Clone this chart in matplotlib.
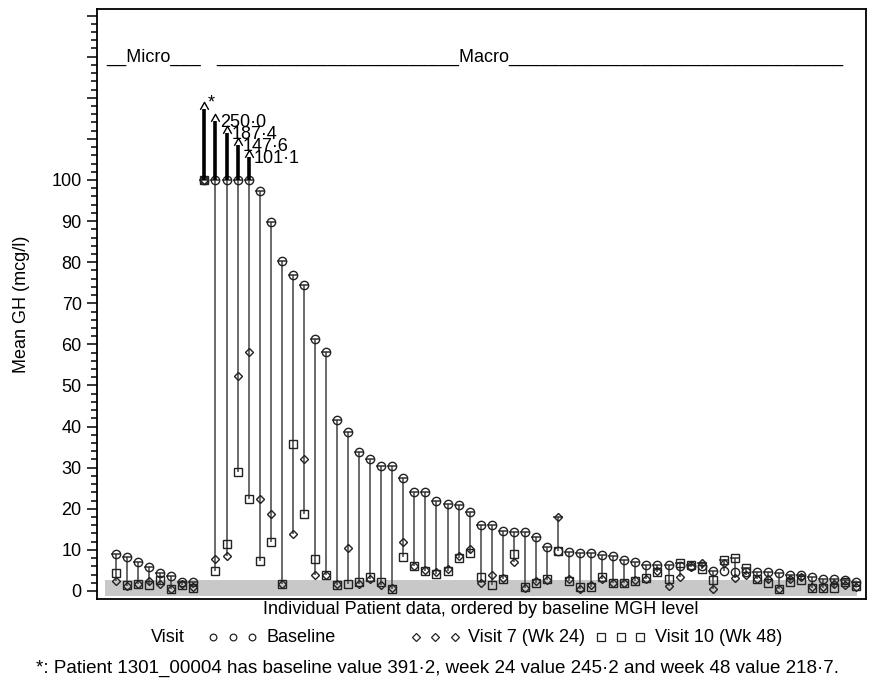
import numpy as np
import matplotlib
matplotlib.use("Agg")
import matplotlib.pyplot as plt
from matplotlib.path import Path
from matplotlib.ticker import MultipleLocator

plt.rcParams["font.family"] = ["Liberation Sans", "DejaVu Sans"]
plt.rcParams["font.size"] = 13

# --------------------------------------------------------
# Data: mean GH per patient, ordered by baseline level
# --------------------------------------------------------
baseline = [8.9, 8.2, 7.0, 5.8, 4.3, 3.7, 2.1, 2.1,
            391.2, 250.0, 187.4, 147.6, 101.1, 97.4, 89.7, 80.3, 76.9, 74.4,
            61.2, 58.2, 41.6, 38.8, 33.7, 32.2, 30.5, 30.4, 27.6, 24.1, 24.0,
            21.9, 21.2, 20.8, 19.1, 16.1, 16.1, 14.7, 14.4, 14.4, 13.2, 10.8,
            9.8, 9.6, 9.2, 9.2, 8.8, 8.6, 7.5, 7.1, 6.3, 6.3, 6.3, 6.2, 6.2,
            6.2, 4.9, 4.8, 4.7, 4.6, 4.6, 4.5, 4.4, 3.9, 3.9, 3.5, 2.8, 2.8,
            2.6, 2.2]
week24 = [2.4, 1.2, 1.7, 2.5, 1.8, 0.6, 1.7, 0.9,
          245.2, 7.8, 8.5, 52.3, 58.2, 22.5, 18.7, 1.6, 13.9, 32.0,
          3.8, 3.8, 1.7, 10.5, 1.8, 2.9, 1.5, 0.8, 11.9, 6.1, 5.2,
          4.5, 5.3, 8.5, 10.1, 2.0, 3.9, 3.1, 7.1, 0.7, 2.4, 2.6,
          18.1, 2.8, 0.6, 1.4, 2.8, 2.0, 2.0, 2.6, 2.8, 4.9, 1.2, 3.3, 5.9,
          6.7, 0.5, 6.9, 3.1, 3.9, 3.0, 3.0, 0.5, 3.0, 3.5, 1.0, 1.0, 1.8,
          1.5, 1.0]
week48 = [4.3, 1.5, 1.6, 1.5, 2.7, 0.4, 1.5, 0.7,
          218.7, 4.9, 11.4, 29.0, 22.4, 7.4, 11.8, 1.6, 35.7, 18.7,
          7.8, 3.8, 1.5, 1.6, 2.1, 3.5, 2.1, 0.5, 8.3, 6.1, 4.9,
          4.1, 4.9, 8.0, 9.2, 3.5, 1.5, 2.8, 9.0, 0.9, 2.0, 2.8,
          9.8, 2.4, 0.9, 0.9, 3.3, 1.9, 1.9, 2.4, 3.2, 4.5, 2.8, 6.7, 6.3,
          5.3, 2.7, 7.5, 8.0, 5.5, 2.8, 2.0, 0.4, 2.3, 2.7, 0.7, 0.7, 0.7,
          2.3, 1.2]
cap = 100
capped_labels = ["*", "250·0", "187·4", "147·6", "101·1"]

W, H = 873, 690


def fig_xy(px, py):
    return px / W, 1 - py / H


fig = plt.figure(figsize=(W / 100, H / 100), dpi=100)
ax = fig.add_axes([97 / W, 1 - 599 / H, (866 - 97) / W, (599 - 9) / H])

x = np.arange(len(baseline))
b = np.minimum(baseline, cap)
w24 = np.minimum(week24, cap)
w48 = np.minimum(week48, cap)
hi = np.maximum(np.maximum(b, w24), w48)
lo = np.minimum(np.minimum(b, w24), w48)

# normal range band
ax.fill_between([-1.0, len(x) - 0.94], -1.2, 2.7, color="#c8c8c8", lw=0, zorder=0)

# hi-low lines with a tick at the high end
ax.vlines(x, lo, hi, color="#505050", lw=1.2, zorder=2)
ax.plot(x, hi, ls="none", marker="_", ms=7, mew=1.1, color="#303030", zorder=3)

mk = dict(ls="none", mfc="none", mec="#222222", mew=1.0, zorder=4)
ax.plot(x, b, marker="o", ms=6, **mk)
ax.plot(x, w24, marker="D", ms=4.2, **mk)
ax.plot(x, w48, marker="s", ms=6, **mk)

# values above the cap: thick line up to an open arrowhead and a label
caret = Path([(-1, -0.8), (0, 1), (1, -0.8)], [Path.MOVETO, Path.LINETO, Path.LINETO])
idx_cap = [i for i, v in enumerate(baseline) if v > cap]
for k, i in enumerate(idx_cap):
    top = 117.3 - 2.9 * k
    ax.vlines(i, cap, top, color="black", lw=2.6, zorder=5)
    ax.plot(i, top + 0.6, marker=caret, ms=6, mfc="none", mec="black", mew=1.0, zorder=6)
    if capped_labels[k] == "*":
        ax.text(i + 0.3, top + 1.5, "*", ha="left", va="center", fontsize=13)
    else:
        ax.text(i + 0.45, top - 0.4, capped_labels[k], ha="left", va="center", fontsize=13)

ax.set_xlim(-1.72, 67.87)
ax.set_ylim(-1.95, 141.6)
ax.set_xticks([])
yt = np.arange(0, 141, 10)
ax.set_yticks(yt)
ax.set_yticklabels([str(v) if v <= 100 else "" for v in yt])
ax.yaxis.set_minor_locator(MultipleLocator(2))
ax.tick_params(axis="y", which="major", length=7, width=1.1, pad=4, labelsize=13)
ax.tick_params(axis="y", which="minor", length=4, width=1.1)
for s in ax.spines.values():
    s.set_linewidth(1.3)

# group labels
fig.text(*fig_xy(106, 57), "__Micro___", ha="left", va="center", fontsize=13)
fig.text(*fig_xy(216, 57), "_" * 24 + "Macro" + "_" * 33, ha="left", va="center", fontsize=13)

# axis titles
fig.text(*fig_xy(22, 304), "Mean GH (mcg/l)", rotation=90, ha="center", va="center", fontsize=13)
fig.text(*fig_xy(481, 609), "Individual Patient data, ordered by baseline MGH level",
         ha="center", va="center", fontsize=13)

# legend row
ov = fig.add_axes([0, 0, 1, 1], facecolor="none")
ov.set_xlim(0, W)
ov.set_ylim(H, 0)
ov.axis("off")
ly = 637
fig.text(*fig_xy(151, ly), "Visit", ha="left", va="center", fontsize=13)
leg_items = [("o", 4.8, [213, 233, 252], 266, "Baseline"),
             ("D", 3.6, [416, 435, 455], 468, "Visit 7 (Wk 24)"),
             ("s", 5.2, [601, 621, 640], 655, "Visit 10 (Wk 48)")]
for m, ms, xs, tx, lab in leg_items:
    ov.plot(xs, [ly] * 3, ls="none", marker=m, ms=ms, mfc="none", mec="#222222", mew=0.9)
    fig.text(*fig_xy(tx, ly), lab, ha="left", va="center", fontsize=13)

fig.text(*fig_xy(437, 668),
         "*: Patient 1301_00004 has baseline value 391·2, week 24 value 245·2 and week 48 value 218·7.",
         ha="center", va="center", fontsize=13.5)

fig.savefig("out.png", dpi=100)
